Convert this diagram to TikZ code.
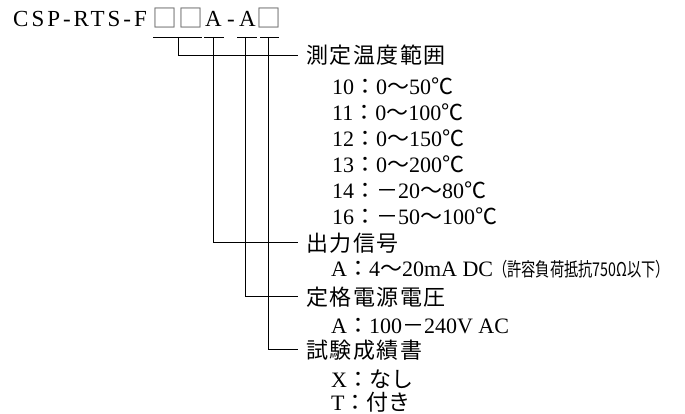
\documentclass[tikz,border=0pt]{standalone}
\usepackage{fontspec}
\setmainfont{Liberation Serif}
\newfontfamily\cjk{Noto Sans CJK JP}
\newfontfamily\cjkh[LetterSpace=7]{Noto Sans CJK JP}
\newfontfamily\cjkn[FakeStretch=0.75]{Noto Sans CJK JP}
\newfontfamily\ttlfont[LetterSpace=13]{Liberation Serif}
\newcommand\J[1]{{\cjk #1}}
\begin{document}
\begin{tikzpicture}[x=1pt,y=1pt,
  conn/.style={draw=black,line width=0.9pt},
  ttl/.style={anchor=base west,inner sep=0pt,font=\fontsize{23}{23}\selectfont},
  hdr/.style={anchor=base west,inner xsep=8pt,inner ysep=0pt,text height=18pt,text depth=0pt,font=\fontsize{22}{22}\selectfont\cjkh},
  item/.style={anchor=base west,inner sep=0pt,font=\fontsize{22}{22}\selectfont},
  boxch/.style={ttl,text=black!60,font=\fontsize{25}{25}\selectfont\cjk}
]
\useasboundingbox (0,0) rectangle (685,-414);
% title
\node[ttl] (t1) at (13,-27) {\ttlfont CSP-RTS-F};
\node[boxch] (b1) at (152,-28) {□};
\node[boxch] (b2) at (178,-28) {□};
\node[ttl] (tA1) at (205,-27) {A};
\node[ttl] (tdash) at (227,-27) {-};
\node[ttl] (tA2) at (239,-27) {A};
\node[boxch] (b3) at (256,-28) {□};
% underlines
\coordinate (u1l) at (153,-37); \coordinate (u1r) at (202,-37);
\coordinate (u2l) at (204,-37); \coordinate (u2r) at (224,-37);
\coordinate (u3l) at (237,-37); \coordinate (u3r) at (257,-37);
\coordinate (u4l) at (260,-37); \coordinate (u4r) at (279,-37);
\draw[conn] (u1l) -- (u1r);
\draw[conn] (u2l) -- (u2r);
\draw[conn] (u3l) -- (u3r);
\draw[conn] (u4l) -- (u4r);
\coordinate (c1) at (178,-37);
\coordinate (c2) at (213,-37);
\coordinate (c3) at (245,-37);
\coordinate (c4) at (268,-37);
% headers
\node[hdr] (h1) at (298,-64) {測定温度範囲};
\node[hdr] (h2) at (298,-251) {出力信号};
\node[hdr] (h3) at (298,-305) {定格電源電圧};
\node[hdr] (h4) at (298,-358) {試験成績書};
\draw[conn] (c1) |- (h1.west);
\draw[conn] (c2) |- (h2.west);
\draw[conn] (c3) |- (h3.west);
\draw[conn] (c4) |- (h4.west);
% items
\node[item] (i10) at (332,-95) {10\J{：}0\J{〜}50\J{℃}};
\node[item] (i11) at (332,-121) {11\J{：}0\J{〜}100\J{℃}};
\node[item] (i12) at (332,-147) {12\J{：}0\J{〜}150\J{℃}};
\node[item] (i13) at (332,-173) {13\J{：}0\J{〜}200\J{℃}};
\node[item] (i14) at (332,-199) {14\J{：－}20\J{〜}80\J{℃}};
\node[item] (i16) at (332,-225) {16\J{：－}50\J{〜}100\J{℃}};
\node[item] (iA1) at (331,-276) {A\J{：}4\J{〜}20mA DC{\fontsize{19}{19}\selectfont\cjkn （許容負荷抵抗750Ω以下）}};
\node[item] (iA2) at (331,-333) {A\J{：}100\J{－}240V AC};
\node[item] (iX) at (331,-387) {X\J{：なし}};
\node[item] (iT) at (331,-410) {T\J{：付き}};
\end{tikzpicture}
\end{document}
